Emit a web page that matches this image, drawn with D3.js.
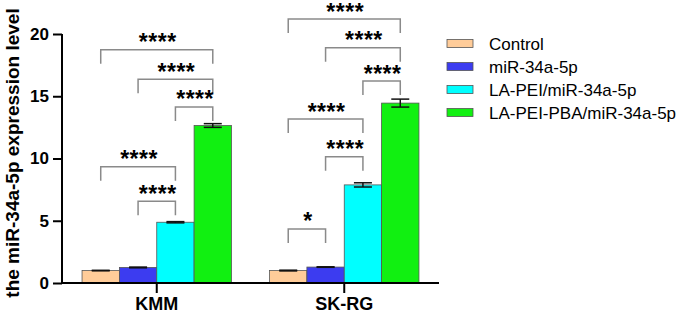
<!DOCTYPE html>
<html>
<head>
<meta charset="utf-8">
<script src="https://cdn.jsdelivr.net/npm/d3@7"></script>
<style>
  body { margin: 0; background: #fff; }
  text { font-family: "Liberation Sans", Arial, sans-serif; }
</style>
</head>
<body>
<div id="chart-area"></div>
<script>
// Data
const groups = ["KMM", "SK-RG"];
const series = ["Control", "miR-34a-5p", "LA-PEI/miR-34a-5p", "LA-PEI-PBA/miR-34a-5p"];
const colors = ["#ffcc99", "#3c3cf0", "#00ffff", "#11f011"];
const kmmValues = [1.0, 1.25, 4.88, 12.65];
const kmmErrors = [0.02, 0.03, 0.05, 0.15];
const skrgValues = [1.0, 1.28, 7.88, 14.45];
const skrgErrors = [0.03, 0.02, 0.17, 0.32];
const yTicks = [0, 5, 10, 15, 20];
// significance: group, from series, to series, bracket level (y units), label
const comparisons = [
  ["KMM", 0, 3, 18.74, "****"],
  ["KMM", 1, 3, 16.36, "****"],
  ["KMM", 2, 3, 14.14, "****"],
  ["KMM", 0, 2, 9.34, "****"],
  ["KMM", 1, 2, 6.56, "****"],
  ["SK-RG", 0, 3, 21.2, "****"],
  ["SK-RG", 1, 3, 18.9, "****"],
  ["SK-RG", 2, 3, 16.22, "****"],
  ["SK-RG", 0, 2, 13.17, "****"],
  ["SK-RG", 1, 2, 10.14, "****"],
  ["SK-RG", 0, 1, 4.34, "*"]
];

const W = 678, H = 316;
const svg = d3.select("#chart-area").append("svg")
  .attr("width", W).attr("height", H);

const x0 = d3.scaleBand().domain(groups).range([63, 438]).padding(0);
const x1 = d3.scaleBand().domain(series).range([0, x0.bandwidth()])
  .paddingInner(0).paddingOuter(0.51);
const y = d3.scaleLinear().domain([0, 20]).range([283, 34]);

const rows = groups.map((g, gi) => series.map((s, si) => ({
  group: g, si: si, name: s,
  value: gi === 0 ? kmmValues[si] : skrgValues[si],
  err: gi === 0 ? kmmErrors[si] : skrgErrors[si]
}))).flat();

// Bars
svg.append("g").selectAll("rect")
  .data(rows)
  .enter().append("rect")
    .attr("x", d => x0(d.group) + x1(d.name))
    .attr("y", d => y(d.value))
    .attr("width", x1.bandwidth())
    .attr("height", d => y(0) - y(d.value))
    .attr("fill", d => colors[d.si])
    .attr("stroke", "#555")
    .attr("stroke-width", 0.8);

// Error bars
const eb = svg.append("g").attr("stroke", "#111").attr("stroke-width", 1.5);
rows.forEach(d => {
  const cx = x0(d.group) + x1(d.name) + x1.bandwidth() / 2;
  const cw = 9;
  eb.append("line").attr("x1", cx).attr("x2", cx)
    .attr("y1", y(d.value + d.err)).attr("y2", y(d.value - d.err));
  eb.append("line").attr("x1", cx - cw).attr("x2", cx + cw)
    .attr("y1", y(d.value + d.err)).attr("y2", y(d.value + d.err));
  eb.append("line").attr("x1", cx - cw).attr("x2", cx + cw)
    .attr("y1", y(d.value - d.err)).attr("y2", y(d.value - d.err));
});

// Brackets
const br = svg.append("g");
comparisons.forEach(c => {
  const xa = x0(c[0]) + x1(series[c[1]]) + x1.bandwidth() / 2;
  const xb = x0(c[0]) + x1(series[c[2]]) + x1.bandwidth() / 2;
  const yt = y(c[3]);
  br.append("path")
    .attr("d", `M${xa},${yt + 14}V${yt}H${xb}V${yt + 14}`)
    .attr("fill", "none")
    .attr("stroke", "#8a8a8a")
    .attr("stroke-width", 1.5);
  br.append("text")
    .attr("x", (xa + xb) / 2 + 1)
    .attr("y", yt + 0.5)
    .attr("text-anchor", "middle")
    .style("font-size", "23px")
    .style("font-weight", "bold")
    .style("letter-spacing", "0.5px")
    .text(c[4]);
});

// Axes
const yAxis = d3.axisLeft(y).tickValues(yTicks).tickSize(9).tickPadding(4);
const yG = svg.append("g").attr("transform", "translate(62,0)").call(yAxis);
yG.select(".domain").attr("stroke-width", 2).attr("d", "M0,34V284");
yG.selectAll(".tick line").attr("stroke-width", 2);
yG.selectAll(".tick text").style("font-size", "17px").style("font-weight", "bold")
  .style("font-family", "Liberation Sans, Arial, sans-serif");

const xAxis = d3.axisBottom(x0).tickSize(10).tickPadding(4);
const xG = svg.append("g").attr("transform", "translate(0,283)").call(xAxis);
xG.select(".domain").attr("stroke-width", 2).attr("d", "M61,0H439");
xG.selectAll(".tick line").attr("stroke-width", 2);
xG.selectAll(".tick text").style("font-size", "18px").style("font-weight", "bold")
  .style("font-family", "Liberation Sans, Arial, sans-serif");

// Y label
svg.append("text")
  .attr("transform", "rotate(-90)")
  .attr("x", -153)
  .attr("y", 19)
  .attr("text-anchor", "middle")
  .style("font-size", "19px")
  .style("font-weight", "bold")
  .text("the miR-34a-5p expression level");

// Legend
const legend = svg.selectAll(".legend")
  .data(series)
  .enter().append("g")
  .attr("class", "legend")
  .attr("transform", (d, i) => `translate(447,${43.5 + i * 23})`);

legend.append("rect")
  .attr("x", 0).attr("y", -4)
  .attr("width", 26).attr("height", 8)
  .attr("fill", (d, i) => colors[i])
  .attr("stroke", "#555").attr("stroke-width", 0.8);

legend.append("text")
  .attr("x", 42)
  .attr("dy", "0.36em")
  .style("font-size", "17px")
  .text(d => d);
</script>
</body>
</html>
